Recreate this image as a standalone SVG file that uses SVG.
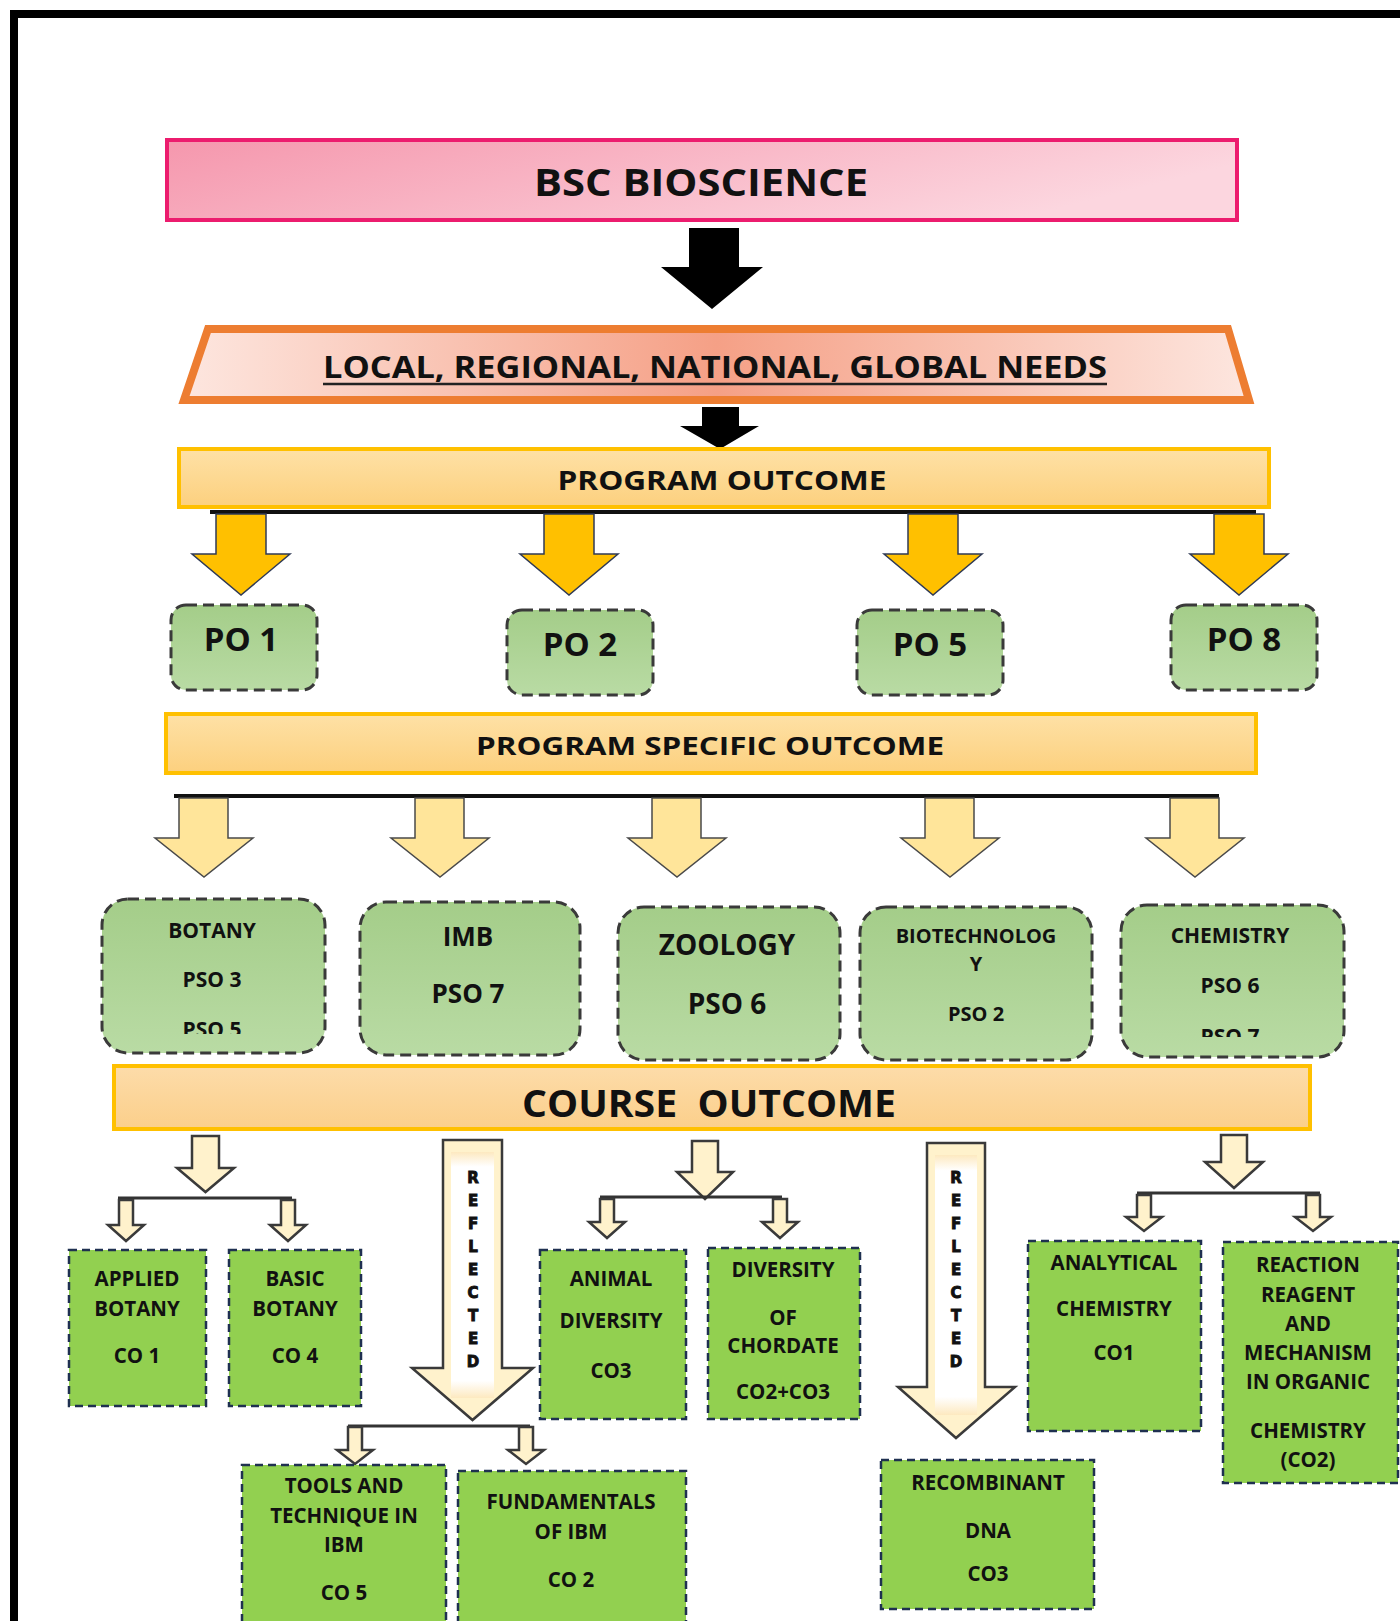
<svg xmlns="http://www.w3.org/2000/svg" width="1400" height="1621" viewBox="0 0 1400 1621">
<defs>
<linearGradient id="gPink" x1="0" y1="0" x2="1" y2="0.3"><stop offset="0" stop-color="#f597ad"/><stop offset="1" stop-color="#fcd6df"/></linearGradient>
<linearGradient id="gTrap" x1="0" y1="0" x2="1" y2="0"><stop offset="0" stop-color="#fde6df"/><stop offset="0.5" stop-color="#f5a086"/><stop offset="1" stop-color="#fde6df"/></linearGradient>
<linearGradient id="gBar" x1="0" y1="0" x2="0" y2="1"><stop offset="0" stop-color="#fee1a6"/><stop offset="1" stop-color="#fcd07e"/></linearGradient>
<linearGradient id="gCo" x1="0" y1="0" x2="0" y2="1"><stop offset="0" stop-color="#fddcaa"/><stop offset="1" stop-color="#fbcf8a"/></linearGradient>
<linearGradient id="gPo" x1="0" y1="0" x2="0" y2="1"><stop offset="0" stop-color="#a4cd89"/><stop offset="1" stop-color="#b9dba4"/></linearGradient>
<linearGradient id="gStripe" x1="0" y1="0" x2="0" y2="1"><stop offset="0" stop-color="#fde9c0"/><stop offset="0.06" stop-color="#ffffff"/><stop offset="0.93" stop-color="#ffffff"/><stop offset="1" stop-color="#fde9c0"/></linearGradient>
<clipPath id="clipBot"><rect x="100" y="890" width="230" height="144"/></clipPath>
<clipPath id="clipChem"><rect x="1118" y="890" width="230" height="147"/></clipPath>
</defs>
<style>
text{font-family:"Open Sans","Liberation Sans",sans-serif;font-weight:700;fill:#111;text-anchor:middle}
.bar{fill:url(#gBar);stroke:#ffc000;stroke-width:4}
.po{fill:url(#gPo);stroke:#3a3a3a;stroke-width:3;stroke-dasharray:11 6}
.co{fill:#92d050;stroke:#1f3050;stroke-width:2.5;stroke-dasharray:8 5}
.gold{fill:#ffc000;stroke:#2f3a55;stroke-width:1.5}
.light{fill:#ffe59a;stroke:#4a4a4a;stroke-width:1.5}
.cream{fill:#fff2cc;stroke:#3a3a3a;stroke-width:2.5}
.line{stroke:#111;stroke-width:4;fill:none}
.thin{stroke:#333;stroke-width:3;fill:none}
.t20{font-size:20.5px}
.ref{font-family:"DejaVu Sans",sans-serif;font-size:15px;font-weight:900;stroke:#111;stroke-width:0.9}
</style>

<g id="frame">
<rect x="10" y="10" width="1390" height="8" fill="#000"/>
<rect x="10" y="10" width="8" height="1611" fill="#000"/>
</g>

<g id="connectors">
<polygon points="689,228 739,228 739,267 763,267 712,309 661,267 689,267" fill="#000"/>
<polygon points="702,407 739,407 739,426 759,426 720,449 680,426 702,426" fill="#000"/>
<line class="line" x1="210" y1="512" x2="1256" y2="512"/>
<polygon class="gold" points="216,514 266,514 266,554 290,554 241,595 192,554 216,554"/>
<polygon class="gold" points="544,514 594,514 594,554 618,554 569,595 520,554 544,554"/>
<polygon class="gold" points="908,514 958,514 958,554 982,554 933,595 884,554 908,554"/>
<polygon class="gold" points="1214,514 1264,514 1264,554 1288,554 1239,595 1190,554 1214,554"/>
<line class="line" x1="174" y1="796" x2="1219" y2="796"/>
<polygon class="light" points="179,798 228,798 228,838 253,838 204,877 155,838 179,838"/>
<polygon class="light" points="415,798 464,798 464,838 489,838 440,877 391,838 415,838"/>
<polygon class="light" points="652,798 701,798 701,838 726,838 677,877 628,838 652,838"/>
<polygon class="light" points="925,798 974,798 974,838 999,838 950,877 901,838 925,838"/>
<polygon class="light" points="1170,798 1219,798 1219,838 1244,838 1195,877 1146,838 1170,838"/>
<polygon class="cream" points="192,1136 219,1136 219,1168 234,1168 205.5,1192 177,1168 192,1168"/>
<line class="thin" x1="118" y1="1198" x2="292" y2="1198"/>
<polygon class="cream" points="119,1200 133,1200 133,1225 144,1225 126,1241 108,1225 119,1225"/>
<polygon class="cream" points="281,1200 295,1200 295,1225 306,1225 288,1241 270,1225 281,1225"/>
<polygon class="cream" points="443,1140 502,1140 502,1368 533,1368 472.5,1420 412,1368 443,1368"/>
<rect x="451" y="1152" width="43" height="246" fill="url(#gStripe)"/>
<line class="thin" x1="348" y1="1426" x2="530" y2="1426"/>
<polygon class="cream" points="348,1427 362,1427 362,1450 373,1450 355,1464 337,1450 348,1450"/>
<polygon class="cream" points="519,1427 533,1427 533,1450 544,1450 526,1464 508,1450 519,1450"/>
<polygon class="cream" points="692,1141 718,1141 718,1172 733,1172 705,1199 677,1172 692,1172"/>
<line class="thin" x1="600" y1="1197" x2="782" y2="1197"/>
<polygon class="cream" points="600,1199 614,1199 614,1222 625,1222 607,1238 589,1222 600,1222"/>
<polygon class="cream" points="773,1199 787,1199 787,1222 798,1222 780,1238 762,1222 773,1222"/>
<polygon class="cream" points="927,1143 985,1143 985,1387 1015,1387 956,1438 898,1387 927,1387"/>
<rect x="935" y="1155" width="42" height="260" fill="url(#gStripe)"/>
<polygon class="cream" points="1221,1135 1247,1135 1247,1162 1263,1162 1234,1188 1205,1162 1221,1162"/>
<line class="thin" x1="1137" y1="1193" x2="1320" y2="1193"/>
<polygon class="cream" points="1137,1195 1151,1195 1151,1217 1162,1217 1144,1231 1126,1217 1137,1217"/>
<polygon class="cream" points="1306,1195 1320,1195 1320,1217 1331,1217 1313,1231 1295,1217 1306,1217"/>
<g class="refl">
<text class="ref" x="473" y="1183">R</text><text class="ref" x="473" y="1206">E</text><text class="ref" x="473" y="1229">F</text><text class="ref" x="473" y="1252">L</text><text class="ref" x="473" y="1275">E</text><text class="ref" x="473" y="1298">C</text><text class="ref" x="473" y="1321">T</text><text class="ref" x="473" y="1344">E</text><text class="ref" x="473" y="1367">D</text>
<text class="ref" x="956" y="1183">R</text><text class="ref" x="956" y="1206">E</text><text class="ref" x="956" y="1229">F</text><text class="ref" x="956" y="1252">L</text><text class="ref" x="956" y="1275">E</text><text class="ref" x="956" y="1298">C</text><text class="ref" x="956" y="1321">T</text><text class="ref" x="956" y="1344">E</text><text class="ref" x="956" y="1367">D</text>
</g>
</g>

<g id="bsc">
<rect x="167" y="140" width="1070" height="80" fill="url(#gPink)" stroke="#ec1c6e" stroke-width="4"/>
<text x="701" y="196" font-size="38" textLength="334" lengthAdjust="spacingAndGlyphs">BSC BIOSCIENCE</text>
</g>

<g id="needs">
<polygon points="208,329 1228,329 1249,400 184,400" fill="url(#gTrap)" stroke="#ed7d31" stroke-width="8"/>
<text x="715" y="378" font-size="30" font-weight="600" textLength="784" lengthAdjust="spacingAndGlyphs">LOCAL, REGIONAL, NATIONAL, GLOBAL NEEDS</text>
<line x1="323" y1="384" x2="1107" y2="384" stroke="#222" stroke-width="2.5"/>
</g>

<g id="program-outcome">
<rect class="bar" x="179" y="449" width="1090" height="58"/>
<text x="722" y="490" font-size="26" textLength="329" lengthAdjust="spacingAndGlyphs">PROGRAM OUTCOME</text>
</g>

<g id="po1"><rect class="po" x="171" y="605" width="146" height="85" rx="15"/><text x="241" y="651" font-size="33">PO 1</text></g>
<g id="po2"><rect class="po" x="507" y="610" width="146" height="85" rx="15"/><text x="580" y="656" font-size="33">PO 2</text></g>
<g id="po5"><rect class="po" x="857" y="610" width="146" height="85" rx="15"/><text x="930" y="656" font-size="33">PO 5</text></g>
<g id="po8"><rect class="po" x="1171" y="605" width="146" height="85" rx="15"/><text x="1244" y="651" font-size="33">PO 8</text></g>

<g id="pso-bar">
<rect class="bar" x="166" y="714" width="1090" height="59"/>
<text x="710" y="755" font-size="25" textLength="468" lengthAdjust="spacingAndGlyphs">PROGRAM SPECIFIC OUTCOME</text>
</g>

<g id="pso-botany">
<rect class="po" x="102" y="899" width="223" height="154" rx="26"/>
<text x="212" y="938" font-size="21">BOTANY</text>
<text x="212" y="987" font-size="21">PSO 3</text>
<text x="212" y="1037" font-size="21" clip-path="url(#clipBot)">PSO 5</text>
</g>
<g id="pso-imb">
<rect class="po" x="360" y="902" width="220" height="153" rx="26"/>
<text x="468" y="946" font-size="26">IMB</text>
<text x="468" y="1003" font-size="26">PSO 7</text>
</g>
<g id="pso-zoology">
<rect class="po" x="618" y="907" width="222" height="153" rx="26"/>
<text x="727" y="955" font-size="28">ZOOLOGY</text>
<text x="727" y="1014" font-size="28">PSO 6</text>
</g>
<g id="pso-biotech">
<rect class="po" x="860" y="907" width="232" height="153" rx="26"/>
<text x="976" y="943" font-size="20">BIOTECHNOLOG</text>
<text x="976" y="971" font-size="20">Y</text>
<text x="976" y="1021" font-size="20">PSO 2</text>
</g>
<g id="pso-chemistry">
<rect class="po" x="1121" y="905" width="223" height="152" rx="26"/>
<text x="1230" y="943" font-size="21">CHEMISTRY</text>
<text x="1230" y="993" font-size="21">PSO 6</text>
<text x="1230" y="1044" font-size="21" clip-path="url(#clipChem)">PSO 7</text>
</g>

<g id="course-outcome">
<rect x="114" y="1066" width="1196" height="63" fill="url(#gCo)" stroke="#ffc000" stroke-width="4"/>
<text x="709" y="1117" font-size="37" textLength="374" lengthAdjust="spacingAndGlyphs" xml:space="preserve">COURSE  OUTCOME</text>
</g>

<g id="applied-botany"><rect class="co" x="69" y="1250" width="137" height="156"/>
<text class="t20" x="137" y="1286">APPLIED</text><text class="t20" x="137" y="1316">BOTANY</text><text class="t20" x="137" y="1363">CO 1</text></g>
<g id="basic-botany"><rect class="co" x="229" y="1250" width="132" height="156"/>
<text class="t20" x="295" y="1286">BASIC</text><text class="t20" x="295" y="1316">BOTANY</text><text class="t20" x="295" y="1363">CO 4</text></g>
<g id="tools"><rect class="co" x="242" y="1465" width="204" height="180"/>
<text class="t20" x="344" y="1493">TOOLS AND</text><text class="t20" x="344" y="1523">TECHNIQUE IN</text><text class="t20" x="344" y="1552">IBM</text><text class="t20" x="344" y="1600">CO 5</text></g>
<g id="fundamentals"><rect class="co" x="458" y="1471" width="228" height="180"/>
<text class="t20" x="571" y="1509">FUNDAMENTALS</text><text class="t20" x="571" y="1539">OF IBM</text><text class="t20" x="571" y="1587">CO 2</text></g>
<g id="animal-diversity"><rect class="co" x="540" y="1250" width="146" height="169"/>
<text class="t20" x="611" y="1286">ANIMAL</text><text class="t20" x="611" y="1328">DIVERSITY</text><text class="t20" x="611" y="1378">CO3</text></g>
<g id="chordate"><rect class="co" x="708" y="1248" width="152" height="171"/>
<text class="t20" x="783" y="1277">DIVERSITY</text><text class="t20" x="783" y="1325">OF</text><text class="t20" x="783" y="1353">CHORDATE</text><text class="t20" x="783" y="1399">CO2+CO3</text></g>
<g id="recombinant"><rect class="co" x="881" y="1460" width="213" height="149"/>
<text class="t20" x="988" y="1490">RECOMBINANT</text><text class="t20" x="988" y="1538">DNA</text><text class="t20" x="988" y="1581">CO3</text></g>
<g id="analytical"><rect class="co" x="1028" y="1241" width="173" height="190"/>
<text class="t20" x="1114" y="1270">ANALYTICAL</text><text class="t20" x="1114" y="1316">CHEMISTRY</text><text class="t20" x="1114" y="1360">CO1</text></g>
<g id="reaction"><rect class="co" x="1223" y="1242" width="175" height="241"/>
<text class="t20" x="1308" y="1272">REACTION</text><text class="t20" x="1308" y="1302">REAGENT</text><text class="t20" x="1308" y="1331">AND</text><text class="t20" x="1308" y="1360">MECHANISM</text><text class="t20" x="1308" y="1389">IN ORGANIC</text><text class="t20" x="1308" y="1438">CHEMISTRY</text><text class="t20" x="1308" y="1467">(CO2)</text></g>
</svg>
